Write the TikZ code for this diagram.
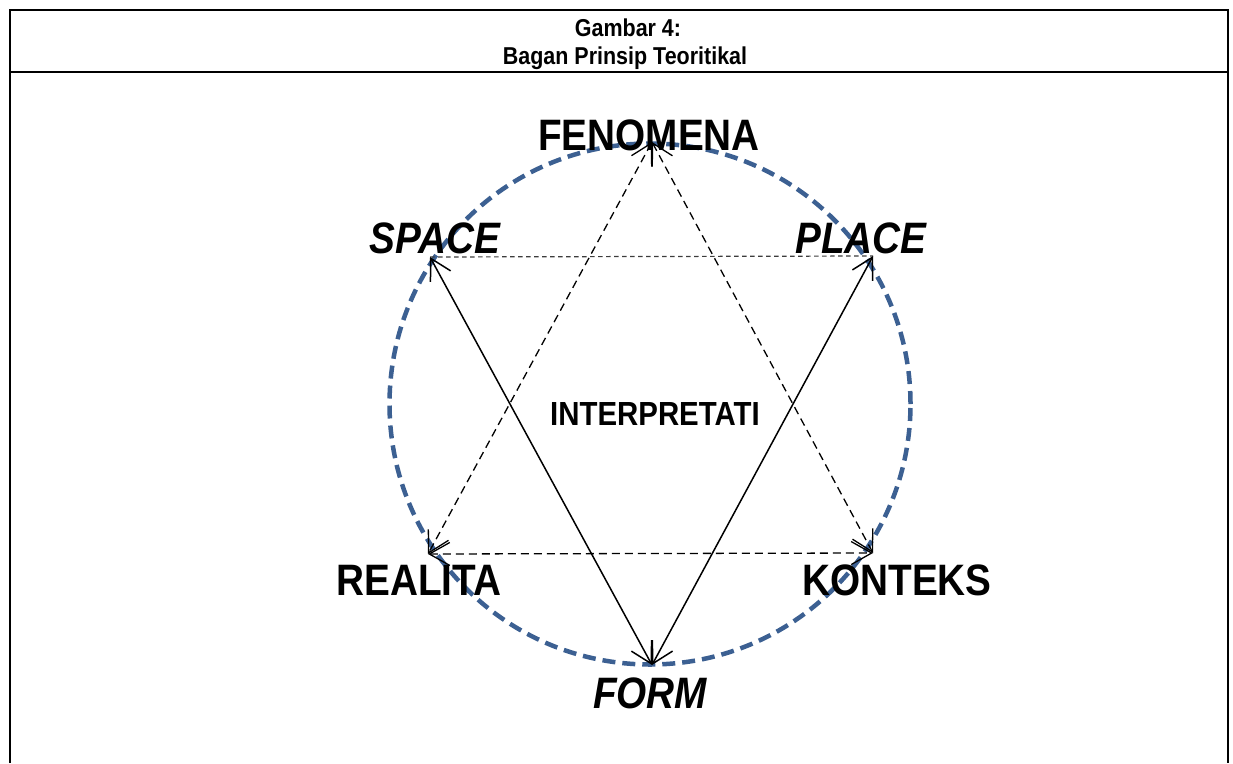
\documentclass[tikz,border=0pt]{standalone}
\usepackage{fontspec}
\setmainfont{Liberation Sans}[FakeStretch=0.88]
\usetikzlibrary{arrows.meta}
\definecolor{circblue}{RGB}{60,96,146}
\definecolor{dgray}{RGB}{60,60,60}
\begin{document}
\begin{tikzpicture}[x=1pt,y=-1pt,
  lbl/.style={anchor=base,inner sep=0pt,font=\fontsize{44}{50}\selectfont\bfseries},
  ilbl/.style={anchor=base,inner sep=0pt,font=\fontsize{44}{50}\selectfont\bfseries\itshape},
  midlbl/.style={anchor=base,inner sep=0pt,font=\fontsize{33.4}{38}\selectfont\bfseries},
  hdr/.style={anchor=base,inner sep=0pt,font=\fontsize{24.4}{28}\selectfont\bfseries},
  frameline/.style={line width=2.5pt},
  circ/.style={draw=circblue,line width=4.5pt,dash pattern=on 13pt off 7pt},
  dline/.style={line width=1.3pt,dash pattern=on 8pt off 5pt,
    {Straight Barb[length=20.5pt,width=23pt]}-{Straight Barb[length=20.5pt,width=23pt]}},
  sline/.style={line width=1.5pt,
    {Straight Barb[length=20.5pt,width=23pt]}-{Straight Barb[length=20.5pt,width=23pt]}},
  fline/.style={line width=1.2pt,draw=dgray,dash pattern=on 4.5pt off 3.5pt}
]
\useasboundingbox (0,0) rectangle (1233,763);
% frame
\draw[frameline] (10,763) -- (10,10) -- (1228,10) -- (1228,763);
\draw[frameline] (10,72) -- (1228,72);
% header
\node[hdr] (h1) at (628,36) {Gambar 4:};
\node[hdr] (h2) at (625,64) {Bagan Prinsip Teoritikal};
% circle
\draw[circ] (650,404) circle[radius=260.5pt];
% points
\coordinate (pF) at (652,142);
\coordinate (pS) at (430,257);
\coordinate (pP) at (873,256);
\coordinate (pR) at (428,554);
\coordinate (pK) at (873,553);
\coordinate (pO) at (652,665);
% connectors
\draw[fline] (pS) -- (pP);
\draw[dline] (pF) -- (pR);
\draw[dline] (pF) -- (pK);
\draw[dline] (pR) -- (pK);
\draw[sline] (pS) -- (pO);
\draw[sline] (pP) -- (pO);
% labels
\node[lbl] (fen) at (649,150) {FENOMENA};
\node[ilbl] (spa) at (435,253) {SPACE};
\node[ilbl] (pla) at (861,253) {PLACE};
\node[lbl] (rea) at (419,595) {REALITA};
\node[lbl] (kon) at (897,595) {KONTEKS};
\node[ilbl] (for) at (650,708) {FORM};
\node[midlbl] (int) at (655,425) {INTERPRETATI};
\end{tikzpicture}
\end{document}
